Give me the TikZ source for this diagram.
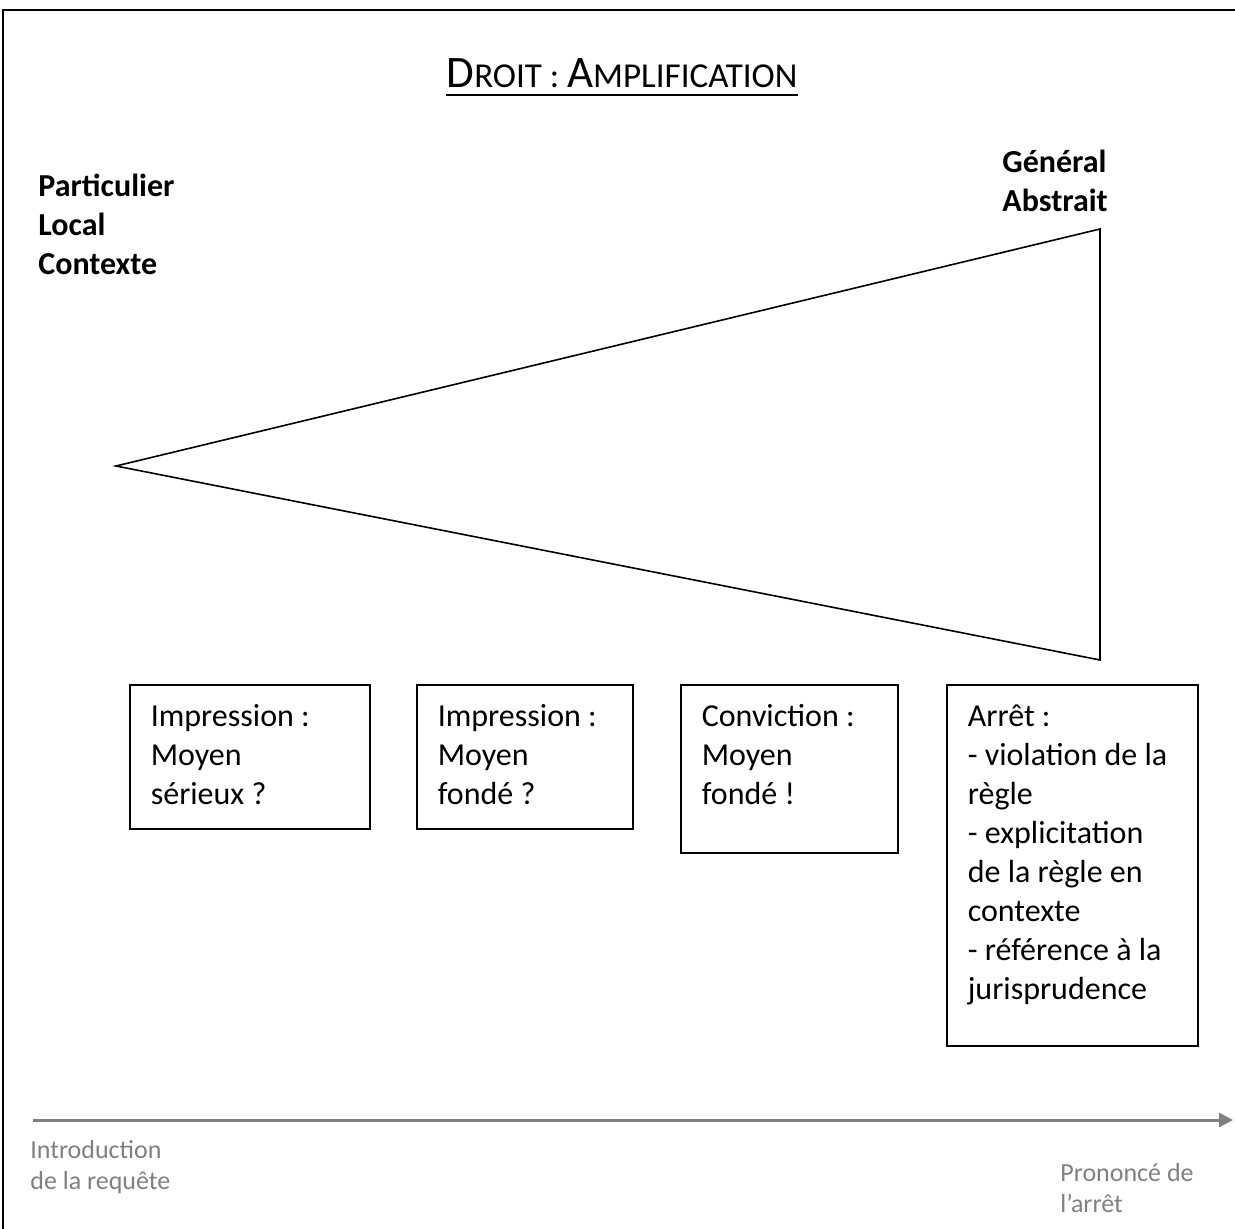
\documentclass[tikz,border=0pt]{standalone}
\usepackage{fontspec}
\setmainfont{Carlito}
\usetikzlibrary{positioning,arrows.meta}
\definecolor{axisgray}{RGB}{128,128,128}

\begin{document}
\begin{tikzpicture}[x=0.5pt,y=-0.5pt,
        stage/.style={draw, line width=0.8pt, anchor=north west, inner xsep=10.5pt, inner ysep=7.35pt,
          font=\fontsize{16}{19.5}\selectfont},
        pole/.style={anchor=north west, inner sep=0pt, align=left, font=\fontsize{16}{19.5}\selectfont\bfseries},
        moment/.style={anchor=north west, inner sep=0pt, align=left, text=axisgray, font=\fontsize{13}{15.5}\selectfont}]
        \useasboundingbox (0,0) rectangle (1235,1229);
        \clip (0,0) rectangle (1235,1229);
        \draw[line width=1pt] (3,1260) -- (3,10) -- (1260,10);
        % titre
        \node[inner sep=0pt, anchor=base] (title) at (622,88)
          {\fontsize{22.5}{25}\selectfont D\fontsize{17.5}{25}\selectfont ROIT : \fontsize{22.5}{25}\selectfont A\fontsize{17.5}{25}\selectfont MPLIFICATION};
        \draw[line width=1.3pt] ([yshift=-3.5pt]title.base west) -- ([yshift=-3.5pt]title.base east);
        % poles
        \node[pole] (particulier) at (38,174) {Particulier\\Local\\Contexte};
        \node[pole] (general) at (1002,150) {Général\\Abstrait};
        % amplification
        \coordinate (apex) at (116,466);
        \coordinate (haut) at (1100,229);
        \coordinate (bas) at (1100,660);
        \draw[line width=0.8pt] (apex) -- (haut) -- (bas) -- cycle;
        % etapes
        \node[stage] (serieux) at (129,684) {\parbox[t][57.3pt][t]{99pt}{\strut Impression :\\Moyen\\sérieux ?}};
        \node[stage] (fonde) at (416,684) {\parbox[t][57.3pt][t]{87pt}{\strut Impression :\\Moyen\\fondé ?}};
        \node[stage] (conviction) at (680,684) {\parbox[t][69.3pt][t]{87.5pt}{\strut Conviction :\\Moyen\\fondé !}};
        \node[stage] (arret) at (946,684) {\parbox[t][165.8pt][t]{104.5pt}{\strut Arrêt :\\- violation de la\\règle\\- explicitation\\de la règle en\\contexte\\- référence à la\\jurisprudence}};
        % temps
        \coordinate (debut) at (33,1120);
        \coordinate (fin) at (1233,1120);
        \draw[axisgray, line width=1.5pt, -{Triangle[length=7pt,width=7pt]}] (debut) -- (fin);
        \node[moment] (requete) at (30,1140) {Introduction\\de la requête};
        \node[moment] (prononce) at (1060,1163) {Prononcé de\\l’arrêt};
\end{tikzpicture}
\end{document}
